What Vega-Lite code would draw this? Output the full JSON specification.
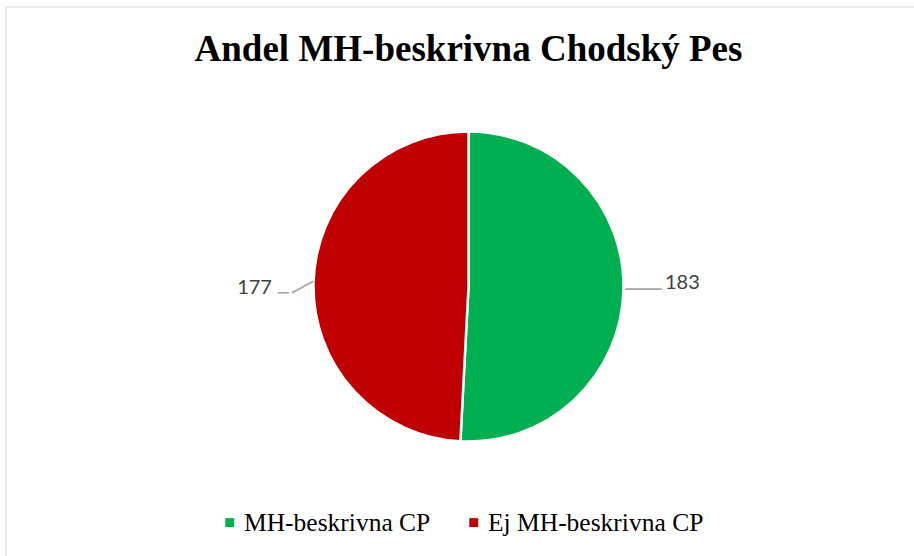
{
  "$schema": "https://vega.github.io/schema/vega-lite/v6.json",
  "width": 926,
  "height": 560,
  "autosize": {"type": "none"},
  "padding": {"left": 5.5, "top": 6.5, "right": -17.5, "bottom": -10.5},
  "background": "white",
  "view": {"stroke": "#D9D9D9", "strokeWidth": 1, "fill": "white"},
  "title": {
    "text": "Andel MH-beskrivna Chodský Pes",
    "font": "Liberation Serif",
    "fontSize": 37,
    "fontWeight": "bold",
    "color": "#000000",
    "anchor": "middle",
    "offset": 0,
    "baseline": "alphabetic",
    "dy": 91.5
  },
  "config": {"view": {"stroke": "#D9D9D9", "strokeWidth": 1}},
  "data": {
    "values": [
      {"category": "MH-beskrivna CP", "count": 183},
      {"category": "Ej MH-beskrivna CP", "count": 177}
    ]
  },
  "encoding": {
    "theta": {"field": "count", "type": "quantitative", "stack": true},
    "order": {"field": "category", "sort": "descending"}
  },
  "layer": [
    {
      "mark": {"type": "arc", "outerRadius": 155, "stroke": "white", "strokeWidth": 2.5},
      "encoding": {
        "color": {
          "field": "category",
          "type": "nominal",
          "scale": {"domain": ["MH-beskrivna CP", "Ej MH-beskrivna CP"], "range": ["#00B050", "#C00000"]},
          "legend": {
            "orient": "none",
            "legendX": 211.5,
            "legendY": 503,
            "direction": "horizontal",
            "title": null,
            "symbolType": "square",
            "symbolSize": 80,
            "symbolStrokeWidth": 0,
            "labelFont": "Liberation Serif",
            "labelFontSize": 25.5,
            "labelColor": "#000000",
            "labelOffset": 1.5,
            "labelLimit": 400,
            "columnPadding": 30,
            "padding": 0
          }
        }
      }
    },
    {
      "mark": {"type": "text", "radius": 214, "font": "Lato", "fontSize": 20, "color": "#404040", "dy": -9.5},
      "encoding": {
        "text": {"condition": {"test": "datum.category == 'MH-beskrivna CP'", "field": "count", "type": "quantitative"}, "value": ""}
      }
    },
    {
      "mark": {"type": "text", "radius": 214, "font": "Lato", "fontSize": 20, "color": "#404040", "dy": 7},
      "encoding": {
        "text": {"condition": {"test": "datum.category == 'Ej MH-beskrivna CP'", "field": "count", "type": "quantitative"}, "value": ""}
      }
    },
    {
      "mark": {"type": "text", "radius": 175, "font": "DejaVu Sans Mono", "fontSize": 20, "color": "#A6A6A6", "dy": -1},
      "encoding": {
        "text": {"condition": {"test": "datum.category == 'MH-beskrivna CP'", "value": "───"}, "value": ""}
      }
    },
    {
      "mark": {"type": "text", "radius": 185.5, "font": "DejaVu Sans Mono", "fontSize": 18, "color": "#A6A6A6", "dy": 12.8},
      "encoding": {
        "text": {"condition": {"test": "datum.category == 'Ej MH-beskrivna CP'", "value": "─"}, "value": ""}
      }
    },
    {
      "mark": {"type": "text", "radius": 168.5, "font": "DejaVu Sans Mono", "fontSize": 20, "color": "#A6A6A6", "dy": 6.4, "angle": 332.4},
      "encoding": {
        "text": {"condition": {"test": "datum.category == 'Ej MH-beskrivna CP'", "value": "──"}, "value": ""}
      }
    }
  ]
}
